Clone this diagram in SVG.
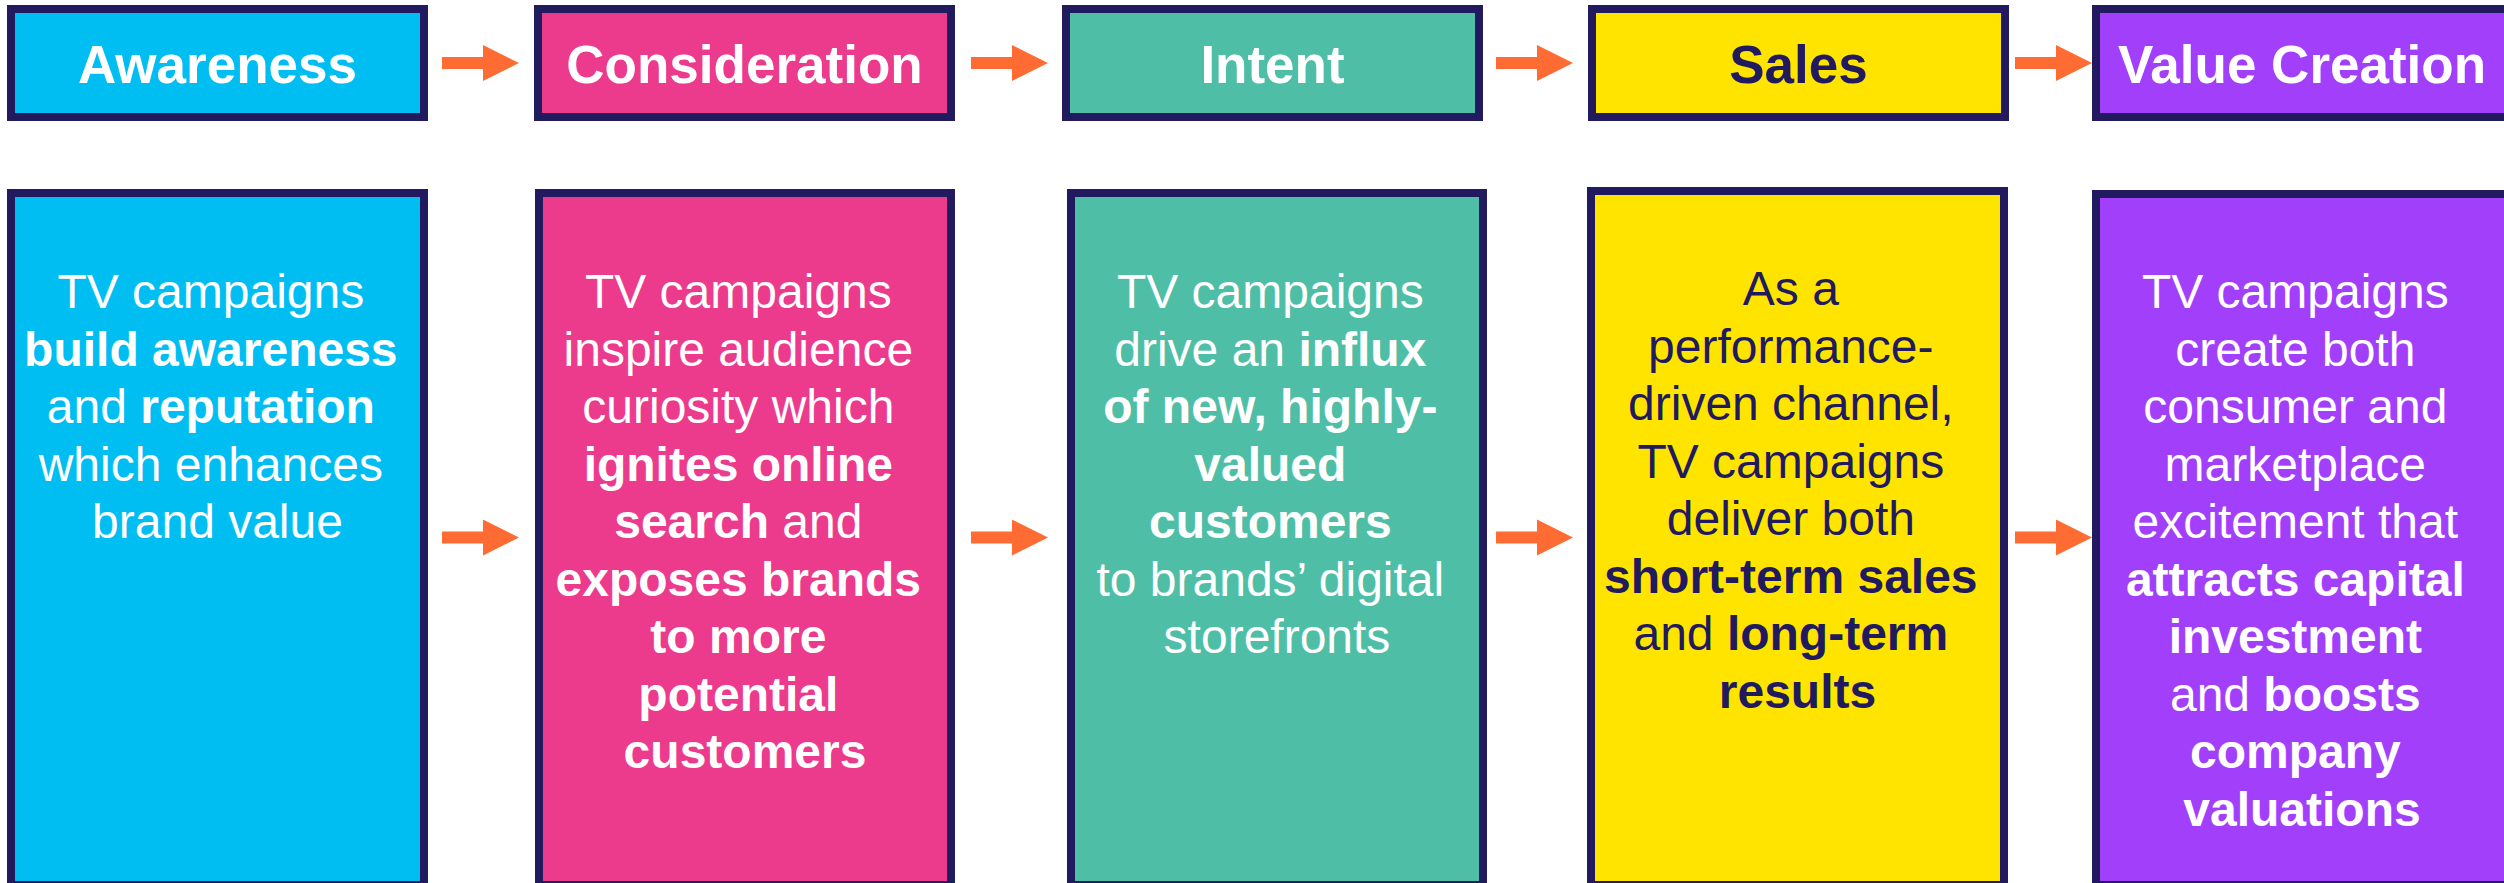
<svg xmlns="http://www.w3.org/2000/svg" width="2504" height="883" viewBox="0 0 2504 883">
  <style>
    .box { stroke: #211A5E; stroke-width: 8; }
    .aw { fill: #00BEF2; }
    .co { fill: #EC3A8C; }
    .in { fill: #4FBEA6; }
    .sa { fill: #FFE400; }
    .vc { fill: #A23FFB; }
    .head { font-family: "Liberation Sans", Arial, sans-serif; font-size: 53px; font-weight: bold; text-anchor: middle; fill: #FFFFFF; }
    .body { font-family: "Liberation Sans", Arial, sans-serif; font-size: 48px; text-anchor: middle; fill: #FFFFFF; }
    .dark { fill: #211A5E; }
    .b { font-weight: bold; }
    .arrow { fill: #FF6C33; }
  </style>
  <defs>
    <path id="arr" class="arrow" d="M0,-6 H41 V-18 L77,0 L41,18 V6 H0 Z"/>
  </defs>

  <rect width="2504" height="883" fill="#FFFFFF"/>

  <!-- stage headers -->
  <g id="awareness-head">
    <rect class="box aw" x="11" y="9" width="413" height="108"/>
    <text class="head" x="217.5" y="83">Awareness</text>
  </g>
  <g id="consideration-head">
    <rect class="box co" x="538" y="9" width="413" height="108"/>
    <text class="head" x="744.5" y="83">Consideration</text>
  </g>
  <g id="intent-head">
    <rect class="box in" x="1066" y="9" width="413" height="108"/>
    <text class="head" x="1272.5" y="83">Intent</text>
  </g>
  <g id="sales-head">
    <rect class="box sa" x="1592" y="9" width="413" height="108"/>
    <text class="head dark" x="1798.5" y="83">Sales</text>
  </g>
  <g id="value-head">
    <rect class="box vc" x="2096" y="9" width="413" height="108"/>
    <text class="head" x="2302" y="83">Value Creation</text>
  </g>

  <!-- stage descriptions -->
  <g id="awareness-body">
    <rect class="box aw" x="11" y="193" width="413" height="692"/>
    <text class="body">
      <tspan x="217.5" y="308">TV campaigns</tspan>
      <tspan x="217.5" y="365.5" class="b">build awareness</tspan>
      <tspan x="217.5" y="423">and <tspan class="b">reputation</tspan></tspan>
      <tspan x="217.5" y="480.5">which enhances</tspan>
      <tspan x="217.5" y="538">brand value</tspan>
    </text>
  </g>
  <g id="consideration-body">
    <rect class="box co" x="539" y="193" width="412" height="692"/>
    <text class="body">
      <tspan x="745" y="308">TV campaigns</tspan>
      <tspan x="745" y="365.5">inspire audience</tspan>
      <tspan x="745" y="423">curiosity which</tspan>
      <tspan x="745" y="480.5" class="b">ignites online</tspan>
      <tspan x="745" y="538"><tspan class="b">search</tspan> and</tspan>
      <tspan x="745" y="595.5" class="b">exposes brands</tspan>
      <tspan x="745" y="653" class="b">to more</tspan>
      <tspan x="745" y="710.5" class="b">potential</tspan>
      <tspan x="745" y="768" class="b">customers</tspan>
    </text>
  </g>
  <g id="intent-body">
    <rect class="box in" x="1071" y="193" width="412" height="692"/>
    <text class="body">
      <tspan x="1277" y="308">TV campaigns</tspan>
      <tspan x="1277" y="365.5">drive an <tspan class="b">influx</tspan></tspan>
      <tspan x="1277" y="423" class="b">of new, highly-</tspan>
      <tspan x="1277" y="480.5" class="b">valued</tspan>
      <tspan x="1277" y="538" class="b">customers</tspan>
      <tspan x="1277" y="595.5">to brands’ digital</tspan>
      <tspan x="1277" y="653">storefronts</tspan>
    </text>
  </g>
  <g id="sales-body">
    <rect class="box sa" x="1591" y="191" width="413" height="694"/>
    <text class="body dark">
      <tspan x="1797.5" y="305">As a</tspan>
      <tspan x="1797.5" y="362.5">performance-</tspan>
      <tspan x="1797.5" y="420">driven channel,</tspan>
      <tspan x="1797.5" y="477.5">TV campaigns</tspan>
      <tspan x="1797.5" y="535">deliver both</tspan>
      <tspan x="1797.5" y="592.5" class="b">short-term sales</tspan>
      <tspan x="1797.5" y="650">and <tspan class="b">long-term</tspan></tspan>
      <tspan x="1797.5" y="707.5" class="b">results</tspan>
    </text>
  </g>
  <g id="value-body">
    <rect class="box vc" x="2096" y="194" width="413" height="691"/>
    <text class="body">
      <tspan x="2302" y="308">TV campaigns</tspan>
      <tspan x="2302" y="365.5">create both</tspan>
      <tspan x="2302" y="423">consumer and</tspan>
      <tspan x="2302" y="480.5">marketplace</tspan>
      <tspan x="2302" y="538">excitement that</tspan>
      <tspan x="2302" y="595.5" class="b">attracts capital</tspan>
      <tspan x="2302" y="653" class="b">investment</tspan>
      <tspan x="2302" y="710.5">and <tspan class="b">boosts</tspan></tspan>
      <tspan x="2302" y="768" class="b">company</tspan>
      <tspan x="2302" y="825.5" class="b">valuations</tspan>
    </text>
  </g>

  <!-- flow arrows between stages -->
  <g id="connectors">
    <use href="#arr" x="442" y="63"/>
    <use href="#arr" x="971" y="63"/>
    <use href="#arr" x="1496" y="63"/>
    <use href="#arr" x="2015" y="63"/>
    <use href="#arr" x="442" y="537.5"/>
    <use href="#arr" x="971" y="537.5"/>
    <use href="#arr" x="1496" y="537.5"/>
    <use href="#arr" x="2015" y="537.5"/>
  </g>
</svg>
